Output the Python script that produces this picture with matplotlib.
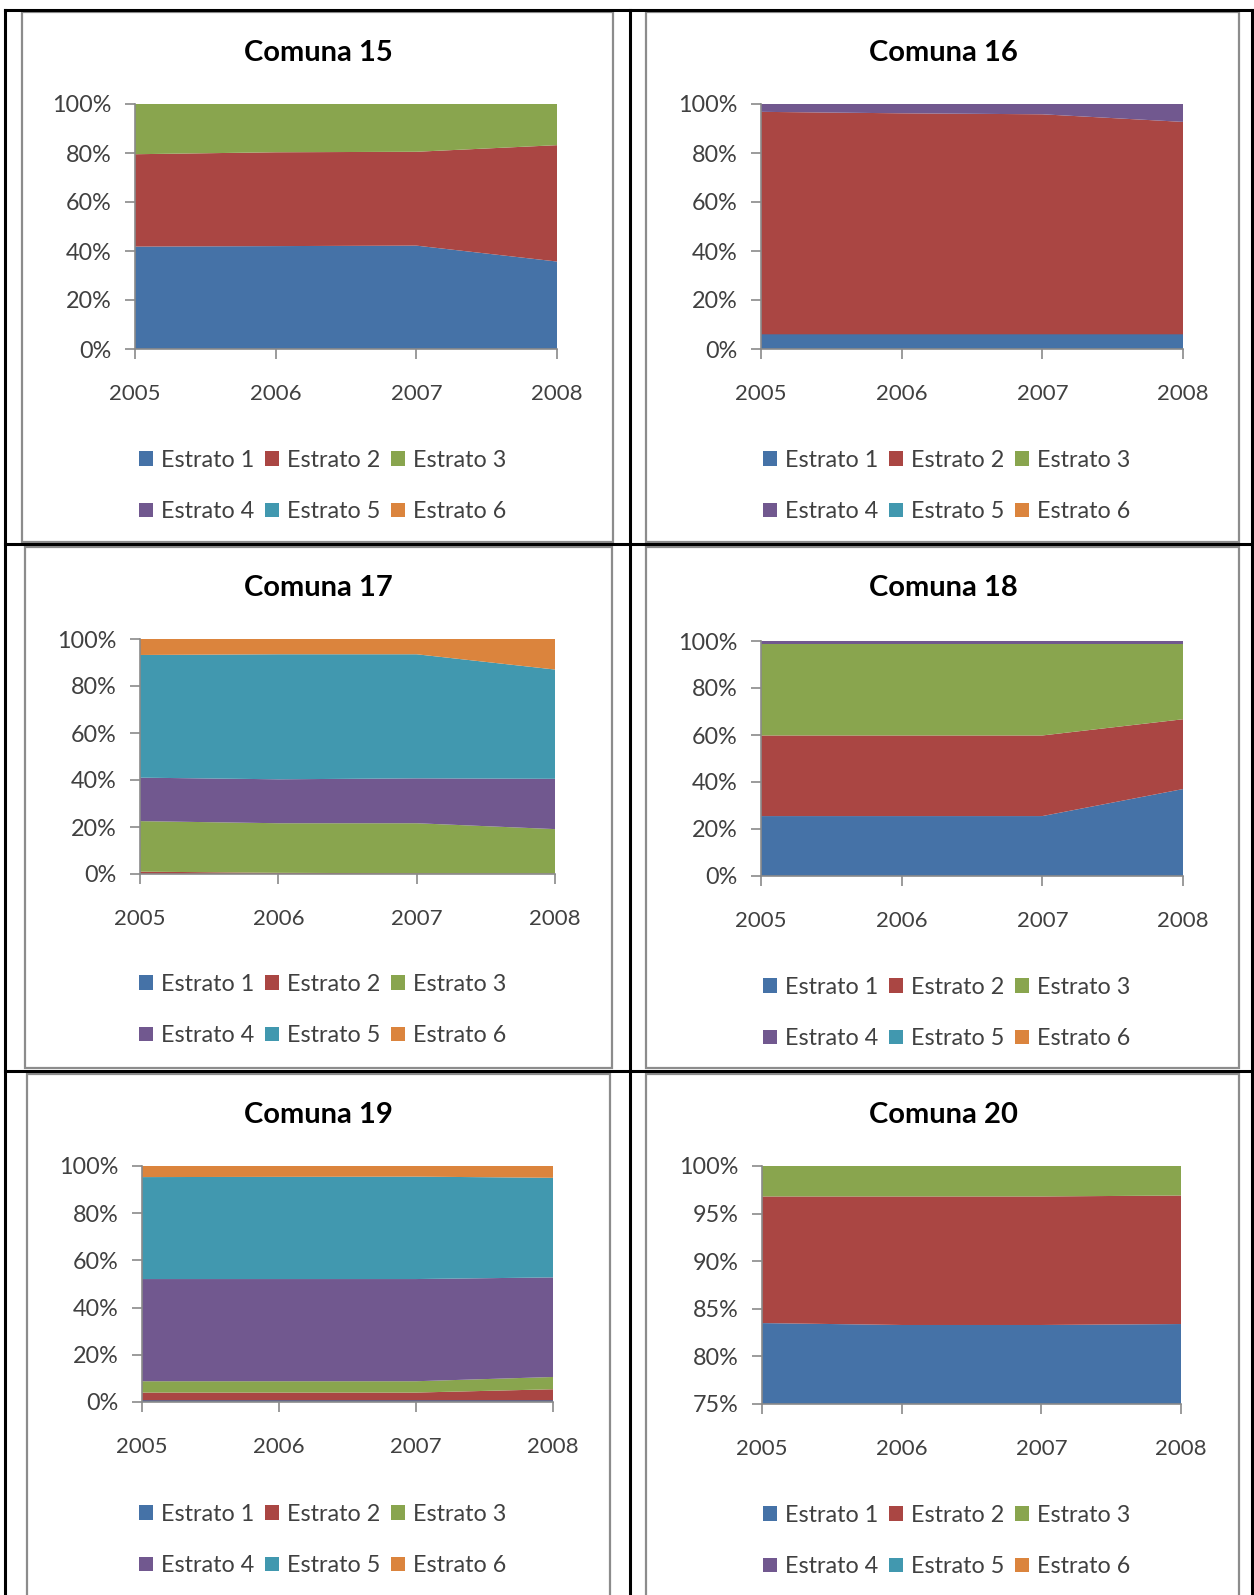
import matplotlib
matplotlib.use('Agg')
import matplotlib.pyplot as plt
from matplotlib.patches import Patch, Rectangle
from matplotlib.lines import Line2D
from matplotlib.ticker import PercentFormatter
import numpy as np

# ---------------- data ----------------
years = [2005, 2006, 2007, 2008]
estratos = ['Estrato 1', 'Estrato 2', 'Estrato 3', 'Estrato 4', 'Estrato 5', 'Estrato 6']
colors = ['#4572A7', '#AA4643', '#89A54E', '#71588F', '#4198AF', '#DB843D']

comuna15 = [[41.8, 42.0, 42.2, 35.7],
            [37.7, 38.3, 38.3, 47.5],
            [20.5, 19.7, 19.5, 16.8],
            [0, 0, 0, 0],
            [0, 0, 0, 0],
            [0, 0, 0, 0]]
comuna16 = [[6.0, 6.0, 6.0, 6.0],
            [90.8, 90.2, 89.8, 86.7],
            [0, 0, 0, 0],
            [3.2, 3.8, 4.2, 7.3],
            [0, 0, 0, 0],
            [0, 0, 0, 0]]
comuna17 = [[0, 0, 0, 0],
            [1.0, 0.5, 0.3, 0.2],
            [21.5, 21.1, 21.3, 18.9],
            [18.5, 18.7, 19.1, 21.4],
            [52.2, 53.2, 52.8, 46.5],
            [6.8, 6.5, 6.5, 13.0]]
comuna18 = [[25.5, 25.5, 25.5, 37.0],
            [34.3, 34.3, 34.3, 29.7],
            [39.0, 39.0, 39.0, 32.1],
            [1.2, 1.2, 1.2, 1.2],
            [0, 0, 0, 0],
            [0, 0, 0, 0]]
comuna19 = [[0.7, 0.7, 0.7, 0.7],
            [3.3, 3.3, 3.3, 4.7],
            [4.8, 4.8, 4.8, 5.2],
            [43.3, 43.3, 43.3, 42.2],
            [43.2, 43.3, 43.4, 42.2],
            [4.7, 4.6, 4.5, 5.0]]
comuna20 = [[83.5, 83.3, 83.3, 83.4],
            [13.3, 13.5, 13.5, 13.5],
            [3.2, 3.2, 3.2, 3.1],
            [0, 0, 0, 0],
            [0, 0, 0, 0],
            [0, 0, 0, 0]]

titles = ['Comuna 15', 'Comuna 16', 'Comuna 17', 'Comuna 18', 'Comuna 19', 'Comuna 20']
datasets = [comuna15, comuna16, comuna17, comuna18, comuna19, comuna20]
ymins = [0.0, 0.0, 0.0, 0.0, 0.0, 0.75]
ysteps = [0.2, 0.2, 0.2, 0.2, 0.2, 0.05]

# ---------------- layout (pixels) ----------------
W, H = 1254, 1595
plt.rcParams['font.family'] = ['Lato', 'DejaVu Sans']

fig = plt.figure(figsize=(W / 100, H / 100), dpi=100)


def fx(x):
    return x / W


def fy(y):
    return 1 - y / H


# chart boxes: (x0, y0, x1, y1)
boxes = [(22, 12, 613, 542), (646, 12, 1239, 542),
         (25, 547, 612, 1068), (646, 547, 1239, 1068),
         (27, 1074, 610, 1600), (646, 1074, 1239, 1600)]
# plot areas: (x0, y0, x1, y1)
plots = [(135, 104, 557, 349), (761, 104, 1183, 349),
         (140, 639, 555, 874), (761, 641, 1183, 876),
         (142, 1166, 553, 1402), (762, 1166, 1181, 1404)]
title_pos = [(318, 53), (943, 53), (318, 588), (943, 588), (318, 1115), (943, 1115)]
legend_pos = [(323, 486), (947, 486), (323, 1010), (947, 1013), (323, 1540), (947, 1541)]

for (x0, y0, x1, y1) in boxes:
    fig.add_artist(Rectangle((fx(x0), fy(y1)), fx(x1) - fx(x0), fy(y0) - fy(y1),
                             transform=fig.transFigure, facecolor='white',
                             edgecolor='#8c8c8c', lw=1.6, zorder=0))

# table lines
for x in [5, 630, 1252]:
    fig.add_artist(Line2D([fx(x)] * 2, [fy(10), fy(1600)], color='black', lw=2.2, zorder=5))
for y in [10, 544, 1071]:
    fig.add_artist(Line2D([fx(5), fx(1254)], [fy(y)] * 2, color='black', lw=2.2, zorder=5))

tick_color = '#404040'
axis_color = '#8a8a8a'

for i in range(6):
    x0, y0, x1, y1 = plots[i]
    ax = fig.add_axes([fx(x0), fy(y1), fx(x1) - fx(x0), fy(y0) - fy(y1)])
    vals = np.array(datasets[i], dtype=float)
    vals = vals / vals.sum(axis=0)
    ax.stackplot(years, vals, colors=colors, linewidth=0)
    ax.set_xlim(years[0], years[-1])
    ax.set_ylim(ymins[i], 1.0)
    ax.set_xticks(years)
    ax.set_xticklabels([str(y) for y in years])
    ax.set_yticks(np.arange(ymins[i], 1.0001, ysteps[i]))
    ax.yaxis.set_major_formatter(PercentFormatter(xmax=1, decimals=0))
    ax.set_facecolor('white')
    for s in ['top', 'right']:
        ax.spines[s].set_visible(False)
    for s in ['left', 'bottom']:
        ax.spines[s].set_color(axis_color)
        ax.spines[s].set_linewidth(1.2)
    ax.tick_params(axis='x', direction='out', length=7, width=1.2, color=axis_color,
                   pad=18, labelsize=16, labelcolor=tick_color)
    ax.tick_params(axis='y', direction='out', length=7, width=1.2, color=axis_color,
                   pad=10, labelsize=16.8, labelcolor=tick_color)

    tx, ty = title_pos[i]
    fig.text(fx(tx), fy(ty), titles[i], ha='center', va='center',
             fontsize=21, fontweight='bold', color='black')

    handles = [Patch(facecolor=c, edgecolor='none') for c in colors]
    order = [0, 3, 1, 4, 2, 5]
    lx, ly = legend_pos[i]
    fig.legend([handles[k] for k in order], [estratos[k] for k in order], ncol=3,
               loc='center', bbox_to_anchor=(fx(lx), fy(ly)), frameon=False,
               fontsize=16.8, handlelength=0.6, handleheight=0.6, handletextpad=0.35,
               columnspacing=0.45, labelspacing=1.3, labelcolor=tick_color,
               borderpad=0, borderaxespad=0)

fig.savefig('out.png', dpi=100)
